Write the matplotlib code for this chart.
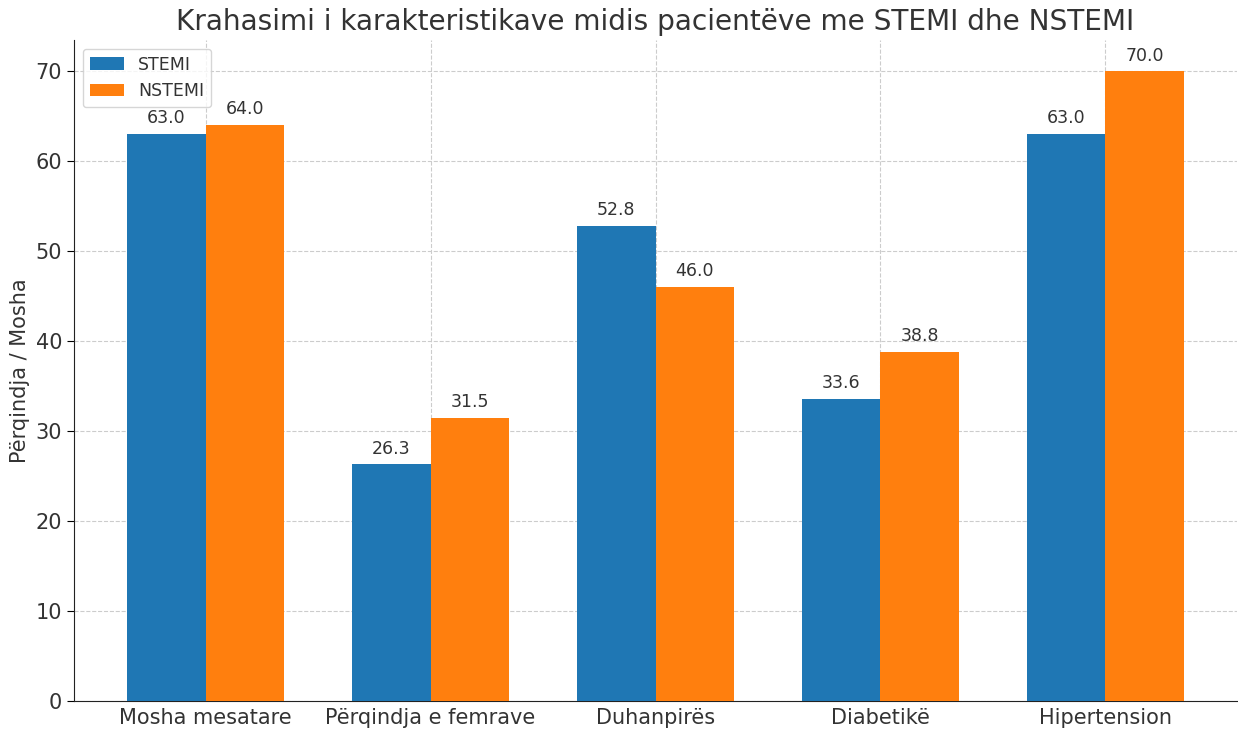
import matplotlib
matplotlib.use("Agg")
import matplotlib.pyplot as plt
import numpy as np

categories = ["Mosha mesatare", "Përqindja e femrave", "Duhanpirës", "Diabetikë", "Hipertension"]
stemi = [63.0, 26.3, 52.8, 33.6, 63.0]
nstemi = [64.0, 31.5, 46.0, 38.8, 70.0]
series_names = ["STEMI", "NSTEMI"]
title = "Krahasimi i karakteristikave midis pacientëve me STEMI dhe NSTEMI"
ylabel = "Përqindja / Mosha"

TXT = "#333333"
plt.rcParams['font.family'] = ['DejaVu Sans']

fig = plt.figure(figsize=(12.38, 7.34), dpi=100)
ax = fig.add_axes([74/1238, 33/734, (1237-74)/1238, (701-40)/734])

x = np.arange(len(categories))
w = 0.35
b1 = ax.bar(x - w/2, stemi, w, label=series_names[0], color="#1f77b4", zorder=3)
b2 = ax.bar(x + w/2, nstemi, w, label=series_names[1], color="#ff7f0e", zorder=3)

for bars in (b1, b2):
    for r in bars:
        h = r.get_height()
        ax.annotate(f"{h:.1f}", xy=(r.get_x() + r.get_width()/2, h),
                    xytext=(0, 5), textcoords="offset points",
                    ha="center", va="bottom", fontsize=12.5, color=TXT)

ax.set_xticks(x)
ax.set_xticklabels(categories, fontsize=15, color=TXT)
ax.tick_params(axis='y', labelsize=15, labelcolor=TXT, direction='out', length=5)
ax.tick_params(axis='x', direction='in', length=5, pad=5)
ax.set_ylabel(ylabel, fontsize=15, color=TXT)
ax.set_title(title, fontsize=20.2, color=TXT, pad=7)
ax.grid(True, linestyle='--', color='#cccccc', linewidth=0.8, zorder=0)
ax.set_axisbelow(True)
for s in ("top", "right"):
    ax.spines[s].set_visible(False)
for s in ("left", "bottom"):
    ax.spines[s].set_color("#222222")

leg = ax.legend(loc="upper left", fontsize=12.5, frameon=True, framealpha=0.8,
                edgecolor="#cccccc")
for t in leg.get_texts():
    t.set_color(TXT)

fig.savefig("out.png", dpi=100)
